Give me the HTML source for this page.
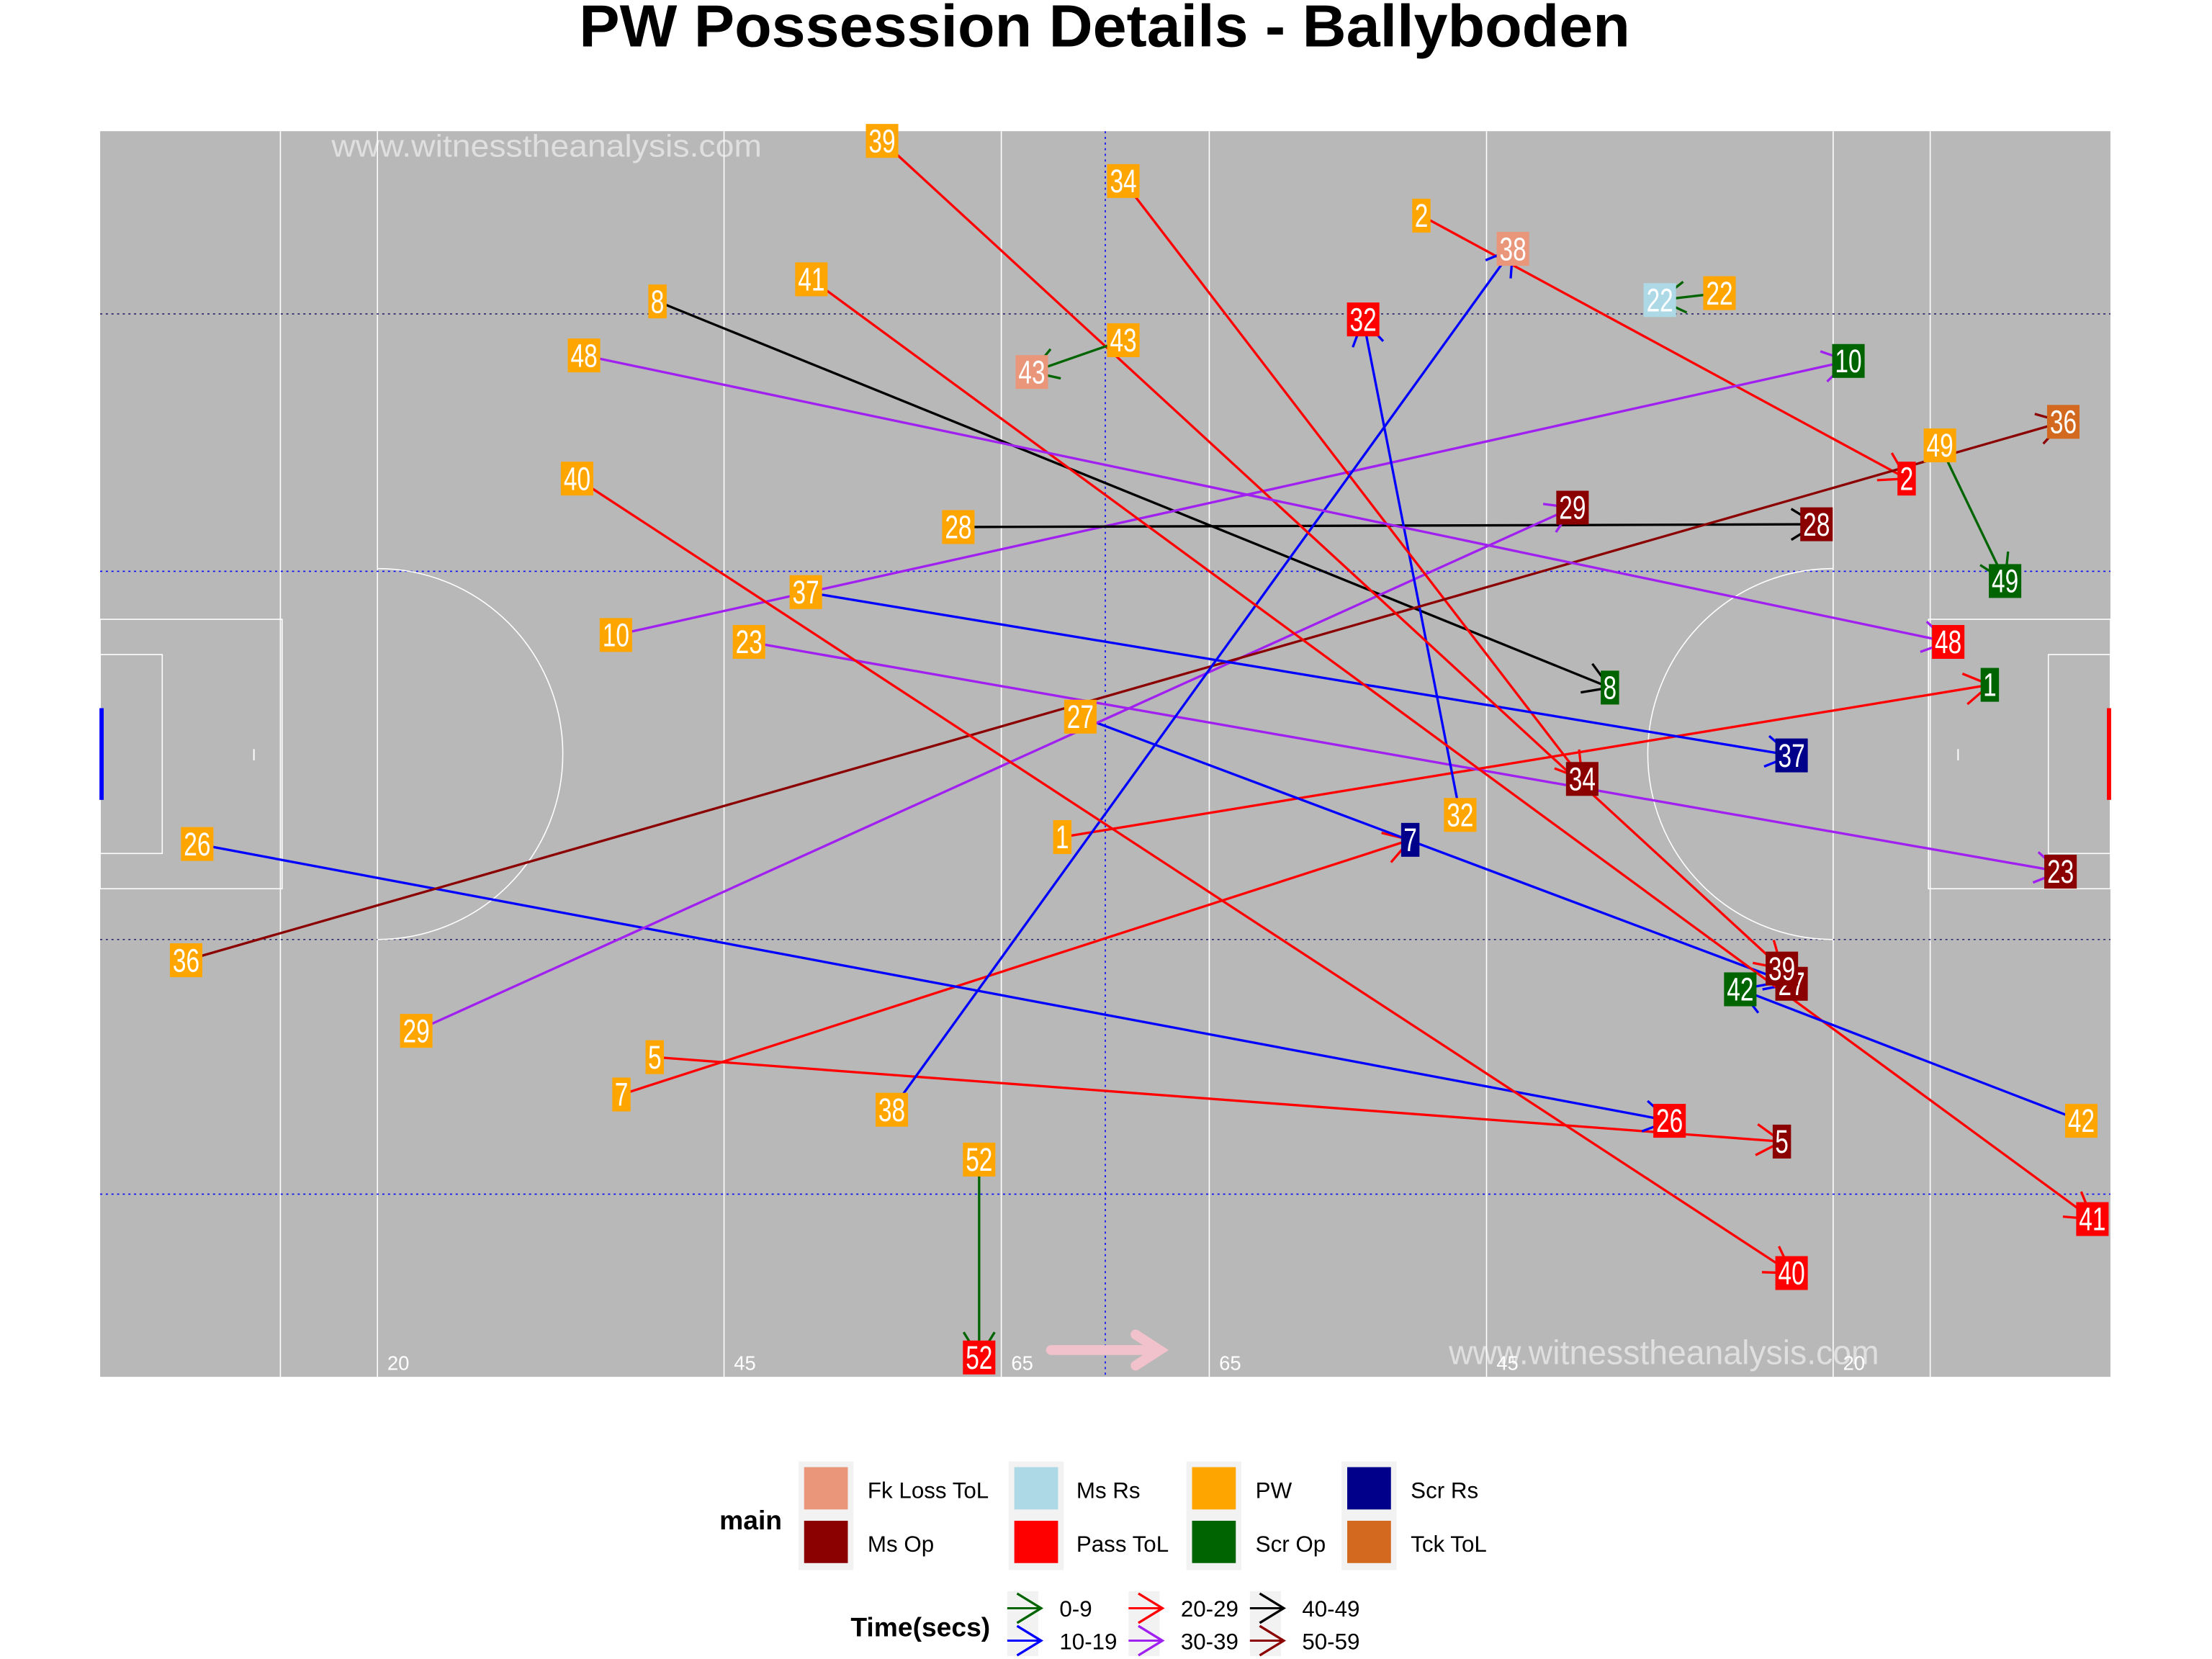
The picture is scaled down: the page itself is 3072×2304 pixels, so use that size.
<!DOCTYPE html>
<html><head><meta charset="utf-8">
<style>
html,body{margin:0;padding:0;background:#fff;}
svg{display:block;}
text{font-family:"Liberation Sans Narrow","Liberation Sans",sans-serif;}
</style></head>
<body>
<svg id="chart" width="3072" height="2304" viewBox="0 0 1568 1176" xmlns="http://www.w3.org/2000/svg">
<text x="783" y="33" text-anchor="middle" font-size="42" font-weight="bold" textLength="745" lengthAdjust="spacingAndGlyphs" style="font-family:'Liberation Sans',sans-serif">PW Possession Details - Ballyboden</text>
<g id="pitch"></g>
<g id="marks"></g>
<g id="labels"></g>
<g id="legend"></g>
</svg>
<script>
// Data (pitch metres: x 0-145, y 0-90)
const ids    = [1,2,5,7,8,10,22,23,26,27,28,29,32,34,36,37,38,39,40,41,42,43,48,49,52];
const startX = [69.4,95.3,40.0,37.6,40.2,37.2,116.8,46.8,7.0,70.7,61.9,22.8,98.1,73.8,6.2,50.9,57.1,56.4,34.4,51.3,142.9,73.8,34.9,132.7,63.4];
const startY = [51.0,6.1,66.9,69.6,12.3,36.4,11.7,36.9,51.5,42.3,28.6,65.0,49.4,3.6,59.9,33.3,70.7,0.7,25.1,10.7,71.5,15.1,16.2,22.7,74.3];
const endX   = [136.3,130.3,121.3,94.5,108.9,126.1,112.5,141.4,113.2,122.0,123.8,106.2,91.1,106.9,141.6,122.0,101.9,121.3,122.0,143.7,118.3,67.2,133.3,137.4,63.4];
const endY   = [40.0,25.1,73.0,51.2,40.2,16.6,12.2,53.5,71.5,61.6,28.4,27.2,13.6,46.8,21.0,45.1,8.5,60.5,82.5,78.6,62.0,17.4,36.9,32.5,88.6];
const endType= ["Scr Op","Pass ToL","Ms Op","Scr Rs","Scr Op","Scr Op","Ms Rs","Ms Op","Pass ToL","Ms Op","Ms Op","Ms Op","Pass ToL","Ms Op","Tck ToL","Scr Rs","Fk Loss ToL","Ms Op","Pass ToL","Pass ToL","Scr Op","Fk Loss ToL","Pass ToL","Scr Op","Pass ToL"];
const timeBand=["20-29","20-29","20-29","20-29","40-49","30-39","0-9","30-39","10-19","10-19","40-49","30-39","10-19","20-29","50-59","10-19","10-19","20-29","20-29","20-29","10-19","0-9","30-39","0-9","0-9"];
const typeNames=["Fk Loss ToL","Ms Rs","PW","Scr Rs","Ms Op","Pass ToL","Scr Op","Tck ToL"];
const typeColors=["#E9967A","#ADD8E6","#FFA500","#00008B","#8B0000","#FF0000","#006400","#D2691E"];
const bandNames=["0-9","10-19","20-29","30-39","40-49","50-59"];
const bandColors=["#006400","#0000FF","#FF0000","#A020F0","#000000","#8B0000"];
const xTicks=[20,45,65,80,100,125];
const xTickLabels=["20","45","65","65","45","20"];

const X0=71,X1=1496,Y0=93,Y1=976;
function sx(m){return X0+m*(X1-X0)/145;}
function sy(m){return Y0+m*(Y1-Y0)/90;}
const NS="http://www.w3.org/2000/svg";
function mk(tag,attrs,parent){const e=document.createElementNS(NS,tag);for(const k in attrs)e.setAttribute(k,attrs[k]);parent.appendChild(e);return e;}

// Pitch
const P=document.getElementById('pitch');
let r=mk('rect',{x:X0,y:Y0,width:X1-X0,height:Y1-Y0,fill:'#B8B8B8'},P);


[13,20,45,65,80,100,125,132].forEach(m=>{const l=mk('line',{x1:sx(m),x2:sx(m),y1:Y0,y2:Y1,stroke:'#fff','stroke-width':0.8},P);

});
[[13.2,'#222266'],[31.8,'#0000FF'],[58.4,'#222266'],[76.8,'#0000FF']].forEach(([m,c])=>{const l=mk('line',{x1:X0,x2:X1,y1:sy(m),y2:sy(m),stroke:c,'stroke-width':0.8,'stroke-dasharray':'1.5,2.5'},P);

});
let ml=mk('line',{x1:sx(72.5),x2:sx(72.5),y1:Y0,y2:Y1,stroke:'#0000FF','stroke-width':0.8,'stroke-dasharray':'1.5,2.5'},P);


const cy=sy(45),rr=sy(58.4)-sy(45);
mk('path',{d:`M${sx(20)},${cy-rr} A${rr},${rr} 0 0 1 ${sx(20)},${cy+rr}`,fill:'none',stroke:'#fff','stroke-width':0.8},P);
mk('path',{d:`M${sx(125)},${cy-rr} A${rr},${rr} 0 0 0 ${sx(125)},${cy+rr}`,fill:'none',stroke:'#fff','stroke-width':0.8},P);
mk('rect',{x:X0,y:439,width:129,height:191,fill:'none',stroke:'#fff','stroke-width':0.8},P);
mk('rect',{x:X0,y:464,width:44,height:141,fill:'none',stroke:'#fff','stroke-width':0.8},P);
mk('rect',{x:1367,y:439,width:129,height:191,fill:'none',stroke:'#fff','stroke-width':0.8},P);
mk('rect',{x:1452,y:464,width:44,height:141,fill:'none',stroke:'#fff','stroke-width':0.8},P);
mk('line',{x1:180,x2:180,y1:531,y2:539,stroke:'#fff'},P);
mk('line',{x1:1388,x2:1388,y1:531,y2:539,stroke:'#fff'},P);
let g1=mk('line',{x1:72,x2:72,y1:502,y2:567,stroke:'#0000FF','stroke-width':3},P);


let g2=mk('line',{x1:1495,x2:1495,y1:502,y2:567,stroke:'#FF0000','stroke-width':3},P);


xTicks.forEach((m,i)=>{const t=mk('text',{x:sx(m)+7,y:971,fill:'#fff','font-size':14},P);t.textContent=xTickLabels[i];

});
let dir=mk('path',{d:'M745,957 L815,957 M805,946 L822,957 L805,968',stroke:'#F2C2CC','stroke-width':7,fill:'none','stroke-linecap':'round'},P);


let w1=mk('text',{x:235,y:111,fill:'#fff','fill-opacity':0.55,'font-size':22,textLength:305,lengthAdjust:'spacingAndGlyphs'},P);w1.textContent='www.witnesstheanalysis.com';


let w2=mk('text',{x:1027,y:967,fill:'#fff','fill-opacity':0.55,'font-size':24,textLength:305,lengthAdjust:'spacingAndGlyphs'},P);w2.textContent='www.witnesstheanalysis.com';



// Arrows
const M=document.getElementById('marks'), L=document.getElementById('labels');
function chevron(parent,x,y,ang,col,len){
  const a1=ang+Math.PI-0.55,a2=ang+Math.PI+0.55;
  return mk('path',{d:`M${x+len*Math.cos(a1)},${y+len*Math.sin(a1)} L${x},${y} L${x+len*Math.cos(a2)},${y+len*Math.sin(a2)}`,fill:'none',stroke:col,'stroke-width':1.7},parent);
}
function label(x,y,txt,fill){
  const w=txt.length*10+3,h=24;
  const g=mk('g',{},L);
  mk('rect',{x:x-w/2,y:y-h/2,width:w,height:h,fill:fill},g);
  const t=mk('text',{x:x,y:y+8,'text-anchor':'middle',fill:'#fff','font-size':23,textLength:txt.length*9.5,lengthAdjust:'spacingAndGlyphs'},g);t.textContent=txt;
  return g;
}
ids.forEach((id,i)=>{
  const x1=sx(startX[i]),y1=sy(startY[i]),x2=sx(endX[i]),y2=sy(endY[i]);
  const col=bandColors[bandNames.indexOf(timeBand[i])];
  const g=mk('g',{},M);
  
  
  mk('line',{x1:x1,y1:y1,x2:x2,y2:y2,stroke:col,'stroke-width':1.7},g);
  chevron(g,x2,y2,Math.atan2(y2-y1,x2-x1),col,21);
  const sl=label(x1,y1,String(id),typeColors[typeNames.indexOf('PW')]);
  
  
  const el=label(x2,y2,String(id),typeColors[typeNames.indexOf(endType[i])]);
  
  
});

// Legend
const G=document.getElementById('legend');
let mt=mk('text',{x:510,y:1084,'font-size':19,'font-weight':'bold'},G);mt.textContent='main';


const colX=[570,719,845,955],lblX=[615,763,890,1000];
typeNames.forEach((n,i)=>{
  const col=[0,1,2,3,0,1,2,3][i], row=i<4?0:1;
  const g=mk('g',{},G);
  
  
  mk('rect',{x:colX[col]-4,y:1036+row*38,width:39,height:39,fill:'#F2F2F2'},g);
  mk('rect',{x:colX[col],y:1040+row*38,width:31,height:30,fill:typeColors[i]},g);
  const t=mk('text',{x:lblX[col],y:1062+row*38,'font-size':16},g);t.textContent=n;
});
let tt=mk('text',{x:603,y:1160,'font-size':19,'font-weight':'bold'},G);tt.textContent='Time(secs)';


bandNames.forEach((n,i)=>{
  const col=Math.floor(i/2),row=i%2;
  const kx=712+col*86, ky=1140+row*23;
  const g=mk('g',{},G);
  
  
  mk('rect',{x:kx+2,y:ky-12,width:22,height:23,fill:'#F2F2F2'},g);
  mk('line',{x1:kx+2,y1:ky,x2:kx+26,y2:ky,stroke:bandColors[i],'stroke-width':1.5},g);
  chevron(g,kx+26,ky,0,bandColors[i],20);
  const t=mk('text',{x:kx+39,y:ky+6,'font-size':16},g);t.textContent=n;
});
</script>
</body></html>
